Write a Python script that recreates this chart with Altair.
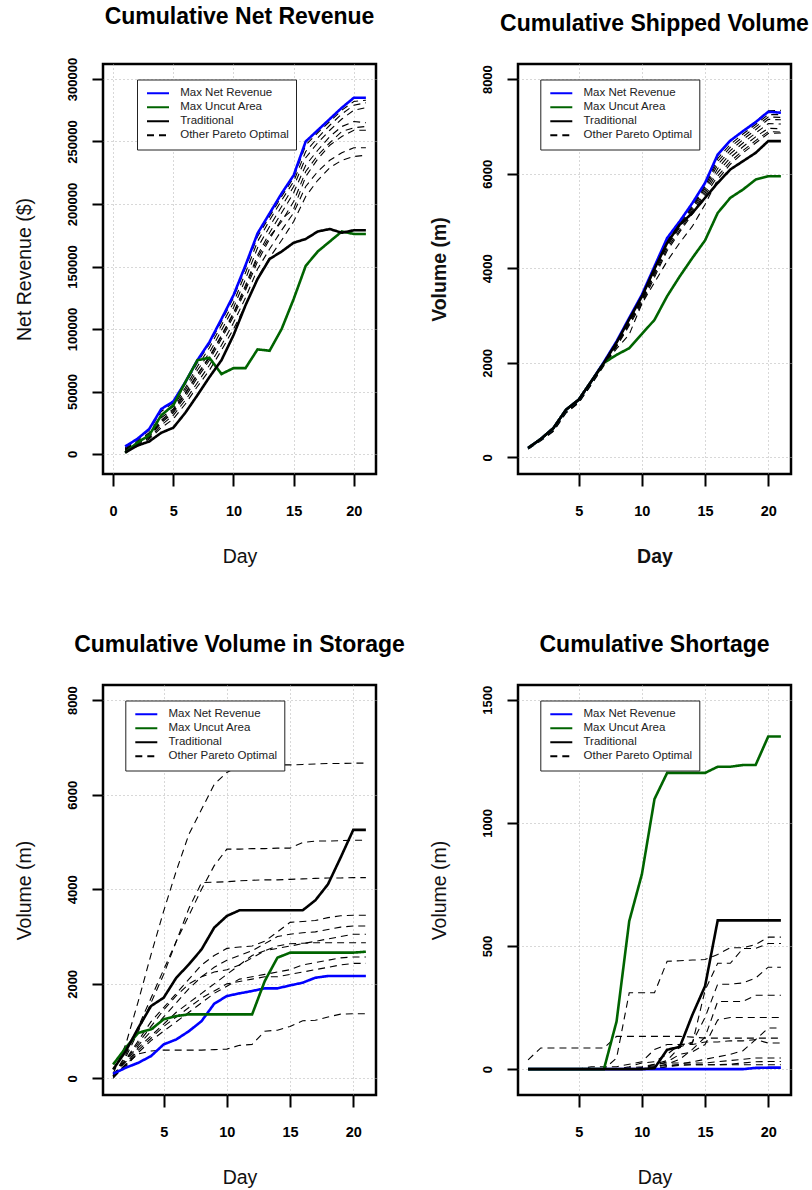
import altair as alt
import pandas as pd

DAYS = list(range(1, 22))

SERIES = ["Max Net Revenue", "Max Uncut Area", "Traditional", "Other Pareto Optimal"]
SERIES_COLORS = ["#0000ff", "#006400", "#000000", "#000000"]
SERIES_DASHES = [[1, 0], [1, 0], [1, 0], [7, 5]]
FONT = "Liberation Sans"

# ---- Cumulative net revenue ($) ----
rev_best = [6000, 12000, 20000, 36000, 42000, 57500, 75000, 89500, 108000, 127000, 151000,
            176500, 192500, 208500, 223000, 250000, 259000, 268000, 277000, 285000, 285000]
rev_uncut = [1000, 9000, 15000, 31000, 39000, 57500, 75000, 77000, 64000, 68700, 68700,
             83700, 82600, 100000, 124000, 150500, 162000, 170000, 178000, 176000, 176000]
rev_trad = [1000, 6700, 10000, 17000, 21000, 33000, 47000, 61500, 75000, 95000, 119000,
            140000, 156000, 162000, 169000, 172000, 178000, 180000, 177000, 179000, 179000]
rev_other = [
    [5000, 11000, 19000, 34000, 41000, 56000, 73000, 88000, 106000, 125000, 149000,
     174000, 190000, 206000, 221000, 247000, 257000, 266000, 275000, 282000, 283000],
    [4000, 10000, 17000, 31000, 38000, 53000, 70000, 85000, 103000, 121000, 145000,
     170000, 187000, 203000, 218000, 242000, 253000, 263000, 272000, 279000, 281000],
    [4000, 9000, 16000, 29000, 36000, 51000, 67000, 81000, 99000, 117000, 140000,
     165000, 182000, 198000, 214000, 237000, 249000, 259000, 268000, 275000, 277000],
    [3000, 9000, 15000, 27000, 35000, 49000, 64000, 78000, 95000, 113000, 135000,
     159000, 177000, 193000, 209000, 231000, 243000, 254000, 262000, 266000, 265000],
    [3000, 8000, 14000, 25000, 33000, 46000, 61000, 75000, 92000, 110000, 131000,
     154000, 172000, 188000, 196000, 222000, 236000, 247000, 254000, 259000, 259000],
    [2000, 7000, 13000, 23000, 31000, 43000, 57000, 71000, 87000, 105000, 125000,
     148000, 164000, 179000, 193000, 214000, 226000, 235000, 241000, 245000, 245000],
    [2000, 6000, 12000, 21000, 28000, 40000, 54000, 67000, 83000, 100000, 119000,
     141000, 157000, 171000, 186000, 206000, 219000, 229000, 235000, 238000, 239000],
    [3000, 8000, 14000, 26000, 34000, 48000, 63000, 77000, 94000, 112000, 133000,
     157000, 174000, 186000, 202000, 226000, 239000, 249000, 258000, 261000, 262000],
]

# ---- Cumulative shipped volume (m) ----
ship_best = [200, 390, 620, 1010, 1220, 1610, 2020, 2455, 2950, 3440, 4040,
             4640, 4995, 5380, 5805, 6405, 6700, 6900, 7090, 7310, 7290]
ship_uncut = [200, 390, 620, 1010, 1220, 1610, 2000, 2170, 2310, 2610, 2910,
              3410, 3830, 4220, 4590, 5170, 5490, 5665, 5875, 5945, 5945]
ship_trad = [200, 390, 620, 1010, 1220, 1610, 2000, 2430, 2920, 3400, 3990,
             4535, 4925, 5170, 5490, 5805, 6090, 6265, 6440, 6690, 6690]
ship_other = [
    [200, 390, 620, 1010, 1220, 1610, 2020, 2450, 2940, 3430, 4030,
     4620, 4980, 5360, 5790, 6380, 6690, 6900, 7100, 7330, 7340],
    [200, 390, 610, 1000, 1210, 1600, 2010, 2430, 2920, 3410, 4000,
     4580, 4950, 5330, 5760, 6320, 6620, 6840, 7040, 7250, 7250],
    [200, 380, 600, 990, 1200, 1590, 2000, 2420, 2900, 3380, 3970,
     4550, 4920, 5300, 5730, 6260, 6560, 6780, 6990, 7200, 7190],
    [190, 380, 590, 980, 1190, 1580, 1990, 2400, 2880, 3350, 3940,
     4510, 4890, 5270, 5690, 6190, 6490, 6720, 6930, 7150, 7140],
    [190, 370, 580, 970, 1180, 1570, 1980, 2380, 2850, 3320, 3900,
     4470, 4860, 5230, 5640, 6110, 6420, 6650, 6860, 7060, 7050],
    [190, 370, 570, 960, 1170, 1560, 1970, 2360, 2820, 3290, 3860,
     4420, 4810, 5190, 5590, 6030, 6340, 6570, 6780, 6960, 6950],
    [180, 360, 560, 950, 1160, 1550, 1960, 2340, 2790, 3250, 3810,
     4370, 4770, 5150, 5540, 5950, 6260, 6490, 6700, 6890, 6880],
    [180, 350, 550, 940, 1150, 1540, 1940, 2300, 2600, 3250, 3700,
     4150, 4540, 4890, 5350, 5880, 6200, 6440, 6650, 6850, 6860],
]

# ---- Cumulative volume in storage (m) ----
stor_best = [100, 226, 332, 473, 720, 825, 1000, 1213, 1580, 1743, 1799,
             1849, 1905, 1905, 1968, 2025, 2130, 2166, 2166, 2166, 2166]
stor_uncut = [296, 649, 966, 1037, 1249, 1319, 1355, 1355, 1355, 1355, 1355,
              1355, 2060, 2554, 2660, 2660, 2660, 2660, 2660, 2660, 2680]
stor_trad = [190, 578, 1072, 1531, 1707, 2130, 2413, 2730, 3189, 3436, 3556,
             3556, 3556, 3556, 3556, 3556, 3767, 4106, 4670, 5256, 5256]
stor_other = [
    [100, 720, 1640, 2620, 3540, 4390, 5165, 5690, 6220, 6470, 6610,
     6630, 6630, 6630, 6630, 6640, 6650, 6660, 6660, 6667, 6667],
    [50, 500, 1100, 1700, 2300, 2900, 3450, 4000, 4500, 4850, 4850,
     4860, 4860, 4870, 4870, 4990, 5020, 5020, 5030, 5037, 5037],
    [50, 450, 1000, 1600, 2200, 2900, 3600, 4140, 4150, 4160, 4180,
     4190, 4200, 4200, 4210, 4220, 4230, 4240, 4240, 4247, 4247],
    [60, 400, 800, 1200, 1500, 1800, 2100, 2400, 2600, 2750, 2780,
     2800, 2900, 3100, 3300, 3320, 3340, 3400, 3440, 3450, 3450],
    [80, 350, 700, 1000, 1300, 1600, 1900, 2150, 2350, 2500, 2600,
     2700, 2850, 3000, 3050, 3080, 3100, 3150, 3200, 3224, 3224],
    [40, 300, 650, 900, 1150, 1400, 1600, 1800, 2000, 2200, 2400,
     2600, 2700, 2750, 2800, 2850, 2900, 2950, 3000, 3048, 3048],
    [60, 380, 750, 1100, 1450, 1750, 2000, 2150, 2250, 2300, 2400,
     2550, 2700, 2800, 2850, 2860, 2870, 2870, 2871, 2871, 2871],
    [30, 250, 550, 800, 1000, 1200, 1400, 1600, 1800, 1950, 2100,
     2150, 2200, 2250, 2300, 2400, 2450, 2500, 2550, 2568, 2568],
    [50, 280, 600, 850, 1100, 1300, 1500, 1700, 1850, 2000, 2050,
     2100, 2150, 2150, 2200, 2250, 2300, 2350, 2400, 2434, 2434],
    [0, 300, 520, 580, 600, 600, 600, 600, 610, 620, 700,
     720, 1000, 1020, 1100, 1220, 1230, 1300, 1360, 1369, 1369],
]

# ---- Cumulative shortage (m) ----
short_best = [0, 0, 0, 0, 0, 0, 0, 0, 0, 0, 0,
              0, 0, 0, 0, 0, 0, 0, 5, 6, 6]
short_uncut = [0, 0, 0, 0, 0, 0, 0, 194, 601, 791, 1097,
               1203, 1203, 1203, 1203, 1228, 1228, 1235, 1235, 1351, 1351]
short_trad = [0, 0, 0, 0, 0, 0, 0, 0, 0, 0, 4,
              79, 90, 221, 337, 604, 604, 604, 604, 604, 604]
short_other = [
    [38, 86, 86, 86, 86, 86, 86, 133, 133, 133, 133,
     133, 133, 130, 126, 126, 126, 126, 126, 126, 126],
    [0, 0, 0, 0, 0, 0, 0, 45, 310, 310, 310,
     438, 440, 443, 445, 466, 493, 493, 506, 536, 536],
    [0, 0, 0, 0, 0, 0, 0, 0, 10, 25, 30,
     60, 100, 105, 320, 430, 430, 490, 490, 510, 510],
    [0, 0, 0, 0, 0, 0, 0, 0, 0, 5, 20,
     35, 90, 110, 210, 345, 345, 350, 370, 414, 414],
    [0, 0, 0, 0, 0, 0, 0, 0, 0, 0, 10,
     20, 40, 80, 130, 275, 275, 275, 300, 300, 300],
    [0, 0, 0, 0, 0, 0, 0, 0, 0, 5, 15,
     30, 60, 70, 100, 200, 210, 210, 210, 210, 210],
    [0, 0, 0, 0, 0, 0, 0, 0, 0, 0, 0,
     10, 20, 30, 40, 50, 60, 75, 120, 167, 167],
    [0, 0, 0, 0, 0, 10, 10, 10, 20, 30, 80,
     100, 100, 100, 110, 110, 115, 115, 120, 106, 106],
    [0, 0, 0, 0, 0, 0, 0, 0, 5, 10, 20,
     25, 25, 25, 25, 30, 35, 40, 45, 45, 45],
    [0, 0, 0, 0, 0, 0, 0, 0, 0, 0, 0,
     10, 15, 18, 18, 18, 20, 25, 30, 31, 31],
    [0, 0, 0, 0, 0, 0, 0, 0, 0, 5, 10,
     15, 18, 18, 18, 18, 18, 18, 18, 18, 18],
]


def long_table(best, uncut, trad, others):
    rows = []
    named = [("best", SERIES[0], best), ("uncut", SERIES[1], uncut), ("trad", SERIES[2], trad)]
    named += [(f"other{i}", SERIES[3], vals) for i, vals in enumerate(others)]
    for run, series, vals in named:
        for day, v in zip(DAYS, vals):
            rows.append({"run": run, "series": series, "day": day, "value": v})
    return pd.DataFrame(rows)


def panel(df, title, ytitle, xdomain, xvalues, ydomain, yvalues, legend_x,
          bold_axis_titles=False):
    weight = "bold" if bold_axis_titles else "normal"
    x = alt.X(
        "day:Q",
        scale=alt.Scale(domain=xdomain, nice=False, zero=False),
        axis=alt.Axis(values=xvalues, title="Day", tickSize=12, labelPadding=18,
                      labelFontSize=14.5, labelFlush=False, labelOverlap=False,
                      titleX=136.5, titleY=82, titleBaseline="middle",
                      titleAlign="center", titleFontWeight=weight),
    )
    y = alt.Y(
        "value:Q",
        scale=alt.Scale(domain=ydomain, nice=False, zero=False),
        axis=alt.Axis(values=yvalues, format="d", title=ytitle, tickSize=11,
                      labelAngle=270, labelAlign="center", labelBaseline="middle",
                      labelFontSize=13, labelPadding=20, labelFlush=False,
                      labelOverlap=False,
                      titleX=-79, titleY=205, titleAngle=270,
                      titleBaseline="middle", titleAlign="center",
                      titleFontWeight=weight),
    )
    legend = alt.Legend(
        title=None, orient="none", legendX=legend_x, legendY=15.5,
        fillColor="white", strokeColor="#222222", padding=7, cornerRadius=0,
        symbolType="stroke", symbolSize=484, symbolStrokeWidth=2.2,
        symbolOffset=1.5, labelOffset=9.7, clipHeight=13.5, rowPadding=0,
        labelFont=FONT, labelFontSize=11.5, labelColor="#222222", labelLimit=200,
    )
    color = alt.Color("series:N", scale=alt.Scale(domain=SERIES, range=SERIES_COLORS),
                      legend=legend)
    dash = alt.StrokeDash("series:N", scale=alt.Scale(domain=SERIES, range=SERIES_DASHES),
                          legend=legend)
    base = alt.Chart(df)
    dashed = base.transform_filter(alt.datum.series == SERIES[3]).mark_line(
        strokeWidth=1.1).encode(x=x, y=y, color=color, strokeDash=dash, detail="run:N")
    solid = base.transform_filter(alt.datum.series != SERIES[3]).mark_line(
        strokeWidth=2.6).encode(x=x, y=y, color=color, strokeDash=dash, detail="run:N")
    return alt.layer(dashed, solid).properties(
        width=273, height=410,
        title=alt.Title(title, font=FONT, fontSize=23, fontWeight="bold", color="black",
                        anchor="middle", frame="group", baseline="alphabetic",
                        offset=10.5),
    )


p1 = panel(long_table(rev_best, rev_uncut, rev_trad, rev_other),
           "Cumulative Net Revenue", "Net Revenue ($)",
           [-0.84, 21.84], [0, 5, 10, 15, 20], [-16000, 312000],
           [0, 50000, 100000, 150000, 200000, 250000, 300000], 34)
p2 = panel(long_table(ship_best, ship_uncut, ship_trad, ship_other),
           "Cumulative Shipped Volume", "Volume (m)",
           [0.2, 21.8], [5, 10, 15, 20], [-350, 8320],
           [0, 2000, 4000, 6000, 8000], 22.3, bold_axis_titles=True)
p3 = panel(long_table(stor_best, stor_uncut, stor_trad, stor_other),
           "Cumulative Volume in Storage", "Volume (m)",
           [0.2, 21.8], [5, 10, 15, 20], [-350, 8320],
           [0, 2000, 4000, 6000, 8000], 22.3)
p4 = panel(long_table(short_best, short_uncut, short_trad, short_other),
           "Cumulative Shortage", "Volume (m)",
           [0.2, 21.8], [5, 10, 15, 20], [-105, 1560],
           [0, 500, 1000, 1500], 22.3)

chart = alt.concat(
    p1, p2, p3, p4, columns=2, bounds="flush",
    spacing={"row": 211, "column": 142},
).resolve_scale(
    color="independent", strokeDash="independent"
).properties(
    padding={"left": 12, "top": 4, "right": 0, "bottom": 0},
    background="white",
).configure_view(
    stroke="black", strokeWidth=2.5,
).configure_axis(
    grid=True, gridDash=[1, 3], gridColor="#b0b0b0", gridWidth=1,
    domain=False, tickColor="black", tickWidth=2,
    labelFont=FONT, labelFontWeight="bold", labelColor="black",
    titleFont=FONT, titleFontSize=19.5, titleColor="#111111",
)

chart.save("out.html", embed_options={"renderer": "svg", "actions": False})
